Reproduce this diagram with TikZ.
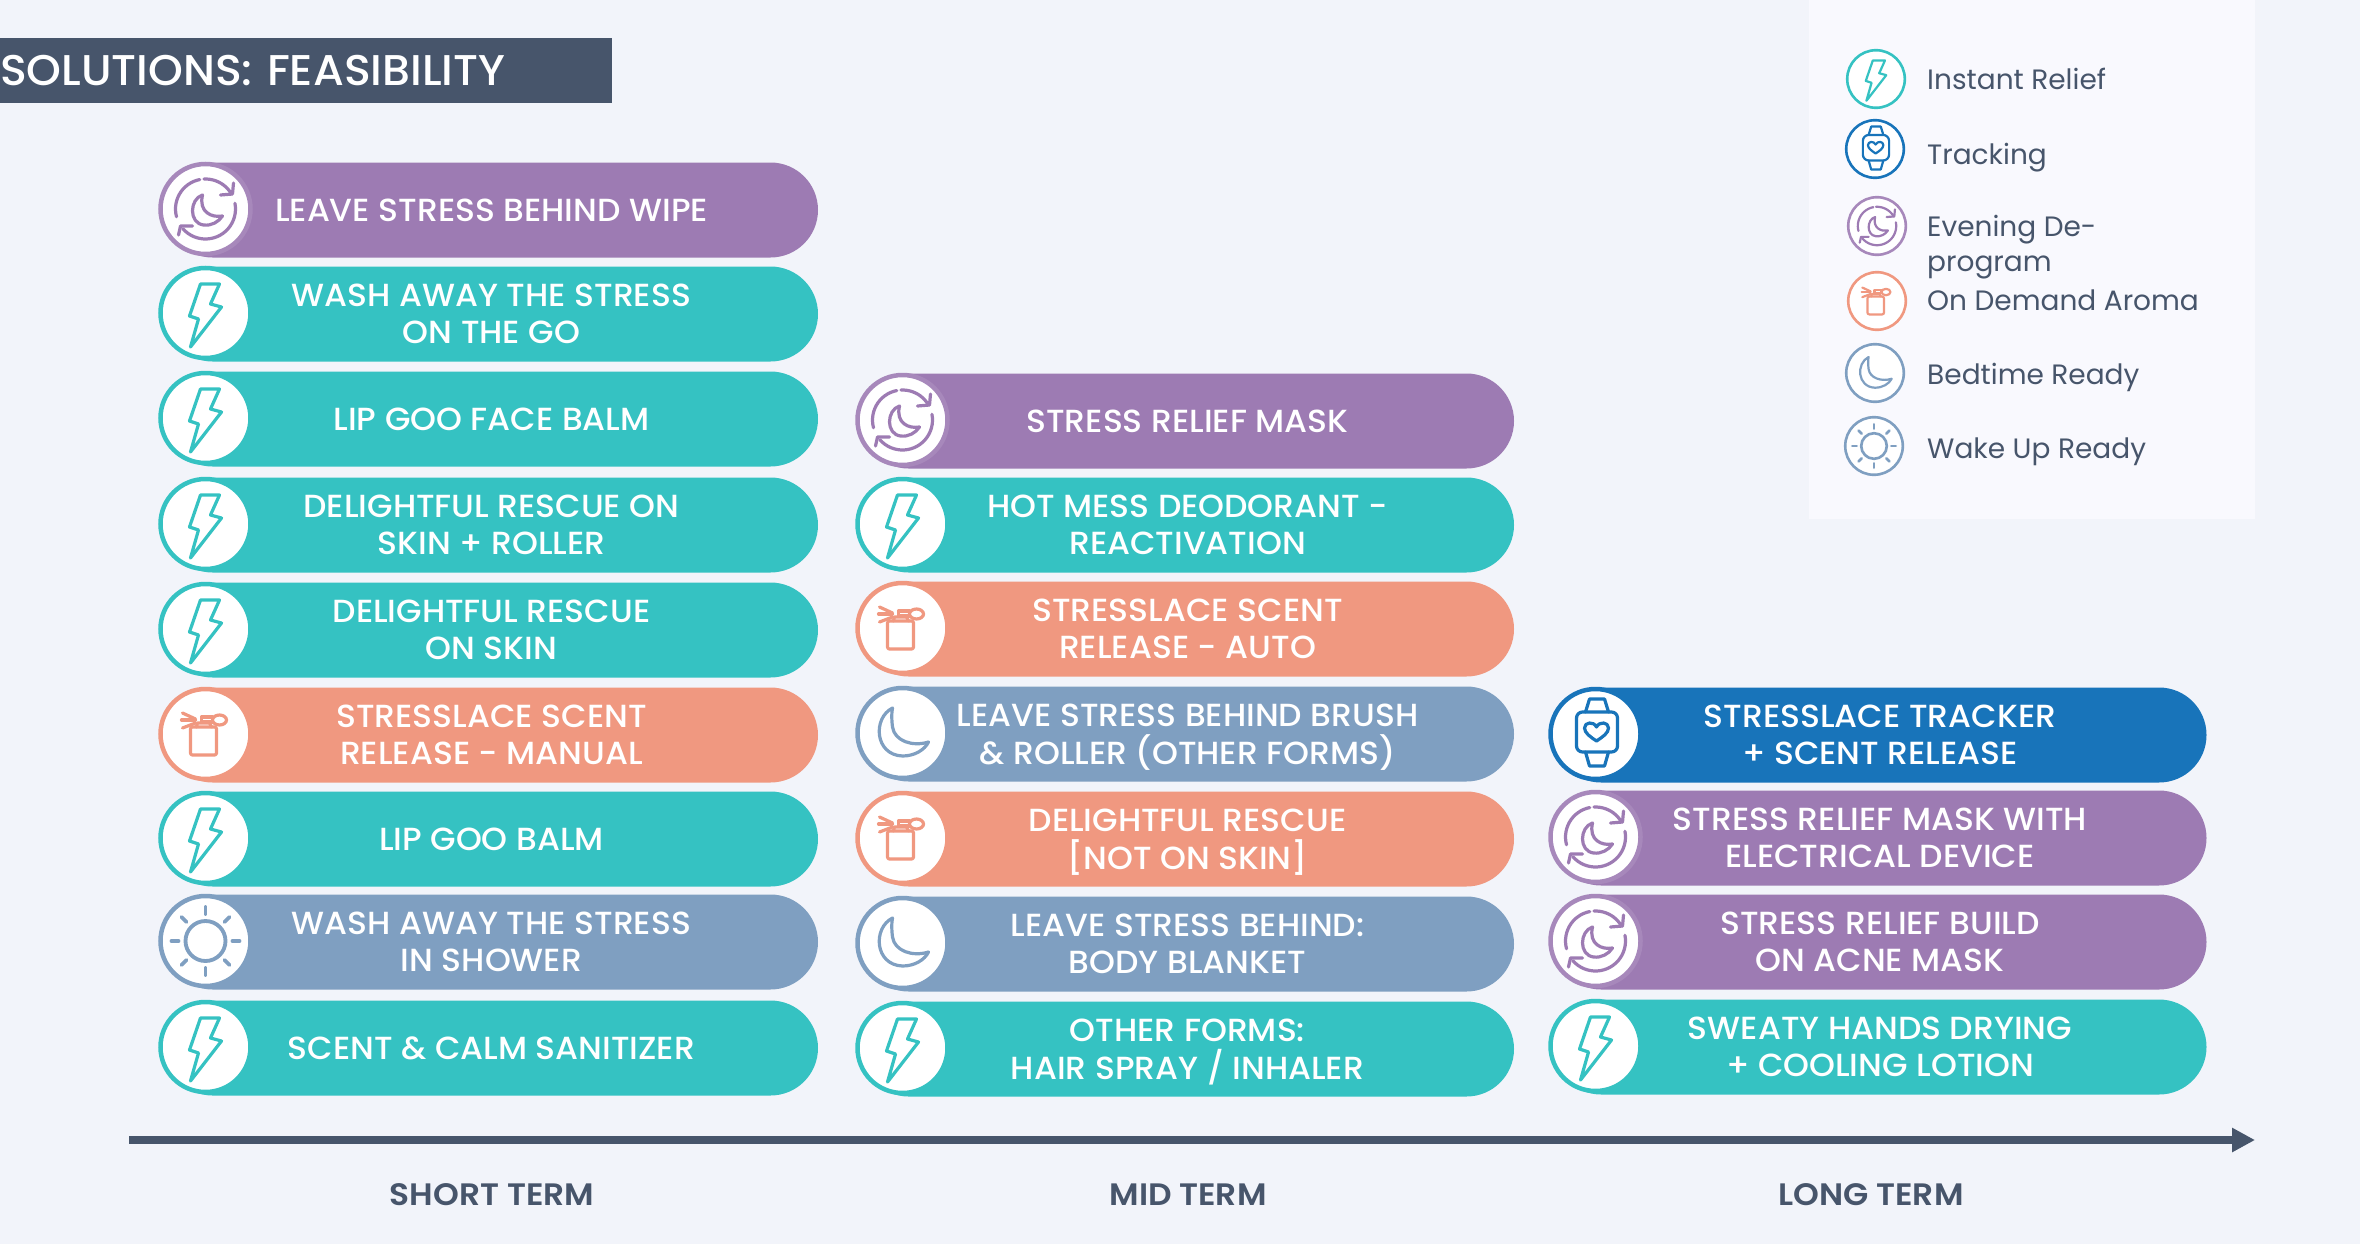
\documentclass[tikz,border=0pt]{standalone}
\usepackage{fontspec}
\usetikzlibrary{arrows.meta,shapes.misc}
\newfontfamily\bodyfont[FakeStretch=1.03,UprightFont={* Medium}]{Poppins}
\newfontfamily\legendfont{Poppins}
\newfontfamily\headfont[FakeStretch=1.06,UprightFont={* SemiBold}]{Poppins}
\definecolor{pagebg}{HTML}{F2F4FA}
\definecolor{panelbg}{HTML}{F9F9FE}
\definecolor{slate}{HTML}{47556B}
\definecolor{teal}{HTML}{35C2C2}
\definecolor{mauve}{HTML}{9D7BB3}
\definecolor{salmon}{HTML}{F09880}
\definecolor{steel}{HTML}{7F9FC1}
\definecolor{deepblue}{HTML}{1874BA}
\tikzset{
    iconline/.style = {line width=3.2pt, line cap=round, line join=round},
    ringline/.style = {line width=4.5pt},
    ring/.style = {draw=#1, ringline, fill=white},
    pillbox/.style = {rounded rectangle, fill=#1, text=white, minimum width=653pt,
        minimum height=95pt, inner sep=0pt, align=center, yshift=-1pt,
        font=\fontsize{32}{37.5}\selectfont\bodyfont},
    legtext/.style = {anchor=west, text=slate, inner sep=0pt, align=left,
        font=\fontsize{28}{35}\selectfont\legendfont},
    termtext/.style = {anchor=base, text=slate, inner sep=0pt,
        font=\fontsize{31}{36}\selectfont\headfont},
    boltic/.pic = {
        \draw [ring=teal] (0,0) circle (45);
        \draw [iconline, teal] (-5,-29) -- (14,-29) -- (5,-9) -- (16,-6) -- (-15,34)
            -- (-7,6) -- (-16,3) -- cycle;
    },
    cycleic/.pic = {
        \draw [ring=mauve!90] (0,0) circle (45);
        \draw [iconline, mauve] plot [domain=-93:-30, samples=12] ({30*cos(\x)},{30*sin(\x)});
        \draw [iconline, mauve] plot [domain=-101:-195, samples=16] ({30*cos(\x)},{30*sin(\x)});
        \draw [iconline, mauve] plot [domain=-11:139, samples=24] ({30*cos(\x)},{30*sin(\x)});
        \draw [iconline, mauve] (15,-14) -- (27,-15) -- (28,-26);
        \draw [iconline, mauve] (-27,26) -- (-25,17) -- (-13,17);
        \draw [iconline, mauve] (-3,-14) .. controls (-16,-10) and (-17,14) .. (-2,16)
            .. controls (6,17) and (13,13) .. (17,7)
            .. controls (6,9) and (-7,3) .. (-3,-14) -- cycle;
    },
    sprayic/.pic = {
        \draw [ring=salmon] (0,0) circle (45);
        \draw [iconline, salmon, rounded corners=2pt] (-15,-7) rectangle (11,21);
        \draw [iconline, salmon] (-9,-7) -- (-8,-11) -- (4,-11) -- (6,-7);
        \draw [iconline, salmon] (-4,-17) rectangle (7,-12);
        \draw [iconline, salmon] (14,-14) ellipse (7 and 5);
        \draw [iconline, salmon] (-23,-21) -- (-10,-15);
        \draw [iconline, salmon] (-24,-14) -- (-10,-14);
        \draw [iconline, salmon] (-23,-6) -- (-10,-11);
    },
    moonic/.pic = {
        \draw [ring=steel] (0,0) circle (45);
        \draw [iconline, steel] (-10,-25) .. controls (-30,-15) and (-28,22) .. (0,23)
            .. controls (12,23) and (22,17) .. (26,9)
            .. controls (10,14) and (-8,8) .. (-10,-6)
            .. controls (-11,-14) and (-11,-20) .. (-10,-25) -- cycle;
    },
    sunic/.pic = {
        \draw [ring=steel] (0,0) circle (45);
        \draw [iconline, steel, line width=1.2*\pgflinewidth] (0,0) circle (20);
        \foreach \a in {0,45,...,315}
            \draw [iconline, steel, line width=1.2*\pgflinewidth] ({27*cos(\a)},{27*sin(\a)}) -- ({34*cos(\a)},{34*sin(\a)});
    },
    watchic/.pic = {
        \draw [ring=deepblue] (0,0) circle (45);
        \draw [iconline, deepblue, rounded corners=6pt] (-19,-22) rectangle (22,18);
        \draw [iconline, deepblue] (-10,-22) -- (-6,-35) -- (9,-35) -- (13,-22);
        \draw [iconline, deepblue] (-10,18) -- (-6,32) -- (9,32) -- (13,18);
        \draw [iconline, deepblue] (1,7) .. controls (-5,3) and (-11,-1) .. (-11,-6)
            .. controls (-11,-12) and (-2,-13) .. (1,-7)
            .. controls (4,-13) and (13,-12) .. (13,-6)
            .. controls (13,-1) and (7,3) .. (1,7) -- cycle;
    }
}
\begin{document}
\begin{tikzpicture}[x=1pt, y=-1pt]
    \fill [pagebg] (0,0) rectangle (2360,1244);
    \useasboundingbox (0,0) rectangle (2360,1244);
    \fill [panelbg] (1809,0) rectangle (2255,519);
    % heading
    \node (heading) [anchor=west, fill=slate, text=white, minimum width=612pt, minimum height=65pt,
        inner sep=0pt, text width=612pt, font=\fontsize{43}{48}\selectfont\bodyfont] at (0,70.5)
        {SOLUTIONS: FEASIBILITY};
    % short term
    \node (wipe) [pillbox=mauve] at (491.5,209) {LEAVE STRESS BEHIND WIPE};
    \pic (wipeic) at (205.5,209) {cycleic};
    \node (washgo) [pillbox=teal] at (491.5,313) {WASH AWAY THE STRESS\\ON THE GO};
    \pic (washgoic) at (205.5,313) {boltic};
    \node (facebalm) [pillbox=teal] at (491.5,418) {LIP GOO FACE BALM};
    \pic (facebalmic) at (205.5,418) {boltic};
    \node (rescueroll) [pillbox=teal] at (491.5,524) {DELIGHTFUL RESCUE ON\\SKIN + ROLLER};
    \pic (rescuerollic) at (205.5,524) {boltic};
    \node (rescueskin) [pillbox=teal] at (491.5,629) {DELIGHTFUL RESCUE\\ON SKIN};
    \pic (rescueskinic) at (205.5,629) {boltic};
    \node (manual) [pillbox=salmon] at (491.5,734) {STRESSLACE SCENT\\RELEASE - MANUAL};
    \pic (manualic) at (205.5,734) {sprayic};
    \node (goobalm) [pillbox=teal] at (491.5,838) {LIP GOO BALM};
    \pic (goobalmic) at (205.5,838) {boltic};
    \node (shower) [pillbox=steel] at (491.5,941) {WASH AWAY THE STRESS\\IN SHOWER};
    \pic (showeric) at (205.5,941) {sunic};
    \node (sanitizer) [pillbox=teal] at (491.5,1047) {SCENT \& CALM SANITIZER};
    \pic (sanitizeric) at (205.5,1047) {boltic};
    % mid term
    \node (mask) [pillbox=mauve] at (1187.5,420) {STRESS RELIEF MASK};
    \pic (maskic) at (902.5,420) {cycleic};
    \node (hotmess) [pillbox=teal] at (1187.5,524) {HOT MESS DEODORANT -\\REACTIVATION};
    \pic (hotmessic) at (902.5,524) {boltic};
    \node (auto) [pillbox=salmon] at (1187.5,628) {STRESSLACE SCENT\\RELEASE - AUTO};
    \pic (autoic) at (902.5,628) {sprayic};
    \node (brush) [pillbox=steel] at (1187.5,733) {LEAVE STRESS BEHIND BRUSH\\\smash{\& ROLLER (OTHER FORMS)}};
    \pic (brushic) at (902.5,733) {moonic};
    \node (notskin) [pillbox=salmon] at (1187.5,838) {DELIGHTFUL RESCUE\\\smash{[NOT ON SKIN]}};
    \pic (notskinic) at (902.5,838) {sprayic};
    \node (blanket) [pillbox=steel] at (1187.5,943) {LEAVE STRESS BEHIND:\\BODY BLANKET};
    \pic (blanketic) at (902.5,943) {moonic};
    \node (forms) [pillbox=teal] at (1187.5,1048) {OTHER FORMS:\\\smash{HAIR SPRAY / INHALER}};
    \pic (formsic) at (902.5,1048) {boltic};
    % long term
    \node (tracker) [pillbox=deepblue] at (1880,734) {STRESSLACE TRACKER\\+ SCENT RELEASE};
    \pic (trackeric) at (1595.5,734) {watchic};
    \node (device) [pillbox=mauve] at (1880,837) {STRESS RELIEF MASK WITH\\ELECTRICAL DEVICE};
    \pic (deviceic) at (1595.5,837) {cycleic};
    \node (acne) [pillbox=mauve] at (1880,941) {STRESS RELIEF BUILD\\ON ACNE MASK};
    \pic (acneic) at (1595.5,941) {cycleic};
    \node (lotion) [pillbox=teal] at (1880,1046) {SWEATY HANDS DRYING\\+ COOLING LOTION};
    \pic (lotionic) at (1595.5,1046) {boltic};
    % time axis
    \coordinate (axisstart) at (129,1140);
    \coordinate (axisend) at (2255,1140);
    \draw [slate, line width=7.5pt, -{Triangle[length=23pt,width=23pt]}] (axisstart) -- (axisend);
    \node (short) [termtext] at (492,1205) {SHORT TERM};
    \node (midt) [termtext] at (1188,1205) {MID TERM};
    \node (longt) [termtext] at (1871,1205) {LONG TERM};
    % legend
    \begin{scope}[iconline/.style={line width=2.2pt, line cap=round, line join=round},
        ringline/.style={line width=2.6pt}]
        \pic (legbolt) [scale=.64] at (1876,79) {boltic};
        \pic (legwatch) [scale=.64] at (1875,149) {watchic};
        \pic (legcycle) [scale=.64] at (1877,226) {cycleic};
        \pic (legspray) [scale=.64] at (1877,301) {sprayic};
        \pic (legmoon) [scale=.64] at (1875,373) {moonic};
        \pic (legsun) [scale=.64] at (1874,446) {sunic};
    \end{scope}
    \node (legbolttext) [legtext] at (1927,79) {Instant Relief};
    \node (legwatchtext) [legtext] at (1927,157.5) {Tracking};
    \node (legcycletext) [legtext] at (1927,247.5) {Evening De-\\program};
    \node (legspraytext) [legtext] at (1927,300) {On Demand Aroma};
    \node (legmoontext) [legtext] at (1927,377) {Bedtime Ready};
    \node (legsuntext) [legtext] at (1927,452) {Wake Up Ready};
\end{tikzpicture}
\end{document}
